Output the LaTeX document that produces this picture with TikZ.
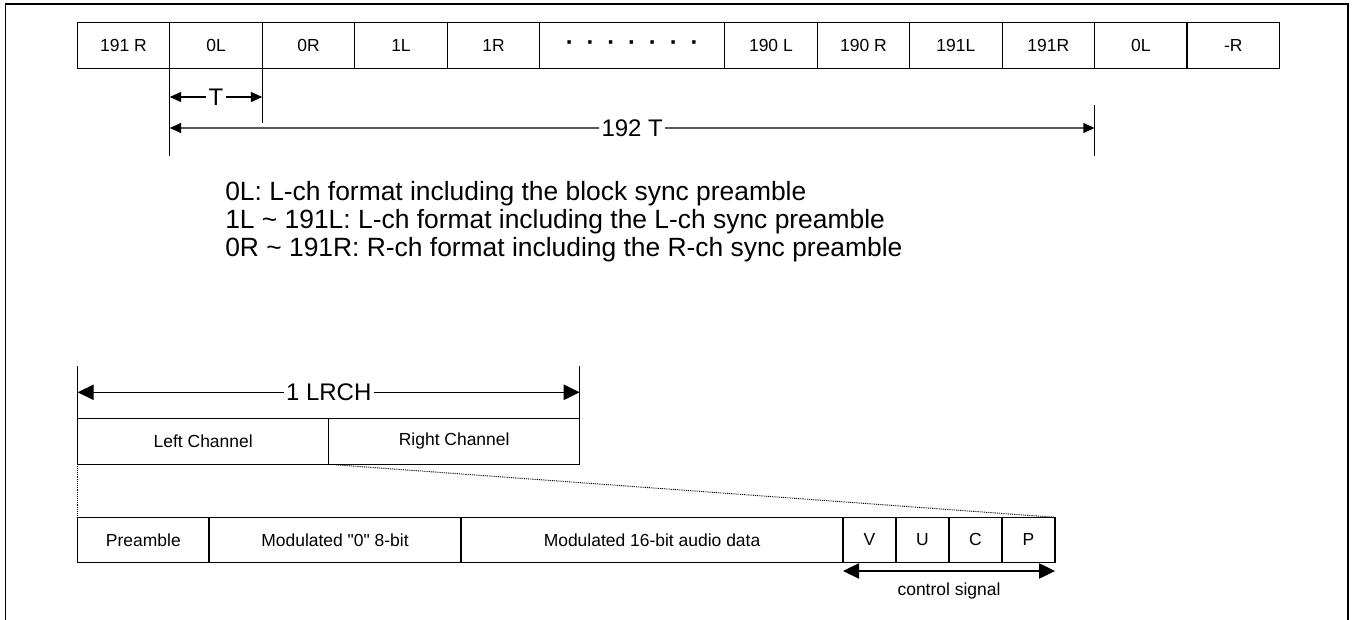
\documentclass[tikz,border=0pt]{standalone}
\usepackage{fontspec}
\setmainfont{Liberation Sans}[Ligatures=TeXOff]
\usetikzlibrary{arrows.meta,calc}
\begin{document}
\begin{tikzpicture}[x=0.75pt,y=-0.75pt,
  cell/.style={draw, line width=0.9pt, inner sep=0pt, outer sep=0pt,
    minimum height=34.5pt, minimum width=69.36pt, anchor=west,
    font=\fontsize{13.1}{15}\selectfont},
  lowcell/.style={cell, minimum height=33.75pt},
  tickline/.style={line width=0.9pt},
  dimlab/.style={inner sep=1.5pt, font=\fontsize{18}{21}\selectfont},
  legend/.style={inner sep=0pt, anchor=base west, font=\fontsize{19.8}{23}\selectfont},
  smallarr/.style={line width=0.9pt, -{Triangle[length=8.5pt,width=7.5pt]}},
  bigarr/.style={line width=0.9pt, -{Triangle[length=12pt,width=11.5pt]}},
  bothbig/.style={line width=0.9pt, {Triangle[length=12pt,width=11.5pt]}-{Triangle[length=12pt,width=11.5pt]}},
  dotline/.style={line width=0.7pt, dash pattern=on 0.7pt off 0.7pt},
  cslab/.style={inner sep=0pt, anchor=base, font=\fontsize{13.1}{15}\selectfont}
]
\useasboundingbox (0,0) rectangle (1356,620);

% outer frame (open at the bottom)
\draw[line width=1.3pt] (5.5,620) -- (5.5,4) -- (1348,4) -- (1348,620);

% top row
\node[cell] (c1) at (77.3,45.6) {191 R};
\node[cell] (c2) at (c1.east) {0L};
\node[cell] (c3) at (c2.east) {0R};
\node[cell] (c4) at (c3.east) {1L};
\node[cell] (c5) at (c4.east) {1R};
\node[cell, minimum width=138.72pt, font=\fontsize{18}{21}\selectfont\bfseries] (cd) at (c5.east)
  {·\hspace{9.6pt}·\hspace{9.6pt}·\hspace{9.6pt}·\hspace{9.6pt}·\hspace{9.6pt}·\hspace{9.6pt}·};
\node[cell] (c6) at (cd.east) {190 L};
\node[cell] (c7) at (c6.east) {190 R};
\node[cell] (c8) at (c7.east) {191L};
\node[cell] (c9) at (c8.east) {191R};
\node[cell] (c10) at (c9.east) {0L};
\node[cell] (c11) at (c10.east) {-R};

% ticks
\coordinate (t1) at ($(c2.south west)+(0,87.2)$);
\draw[tickline] (c2.south west) -- (t1);
\coordinate (t2) at ($(c2.south east)+(0,54.5)$);
\draw[tickline] (c2.south east) -- (t2);
\coordinate (t3a) at ($(c9.south east)+(0,36.5)$);
\coordinate (t3b) at ($(c9.south east)+(0,87.2)$);
\draw[tickline] (t3a) -- (t3b);

% T arrow
\node[dimlab] (Tl) at ($(c2.south)+(0,28.4)$) {T};
\coordinate (Ta) at ($(c2.south west)+(0,28.4)$);
\coordinate (Tb) at ($(c2.south east)+(0,28.4)$);
\draw[smallarr] (Tl) -- (Ta);
\draw[smallarr] (Tl) -- (Tb);

% 192 T arrow
\node[dimlab] (T192) at ($(c2.south west)!0.5!(c9.south east)+(0,59.4)$) {192 T};
\coordinate (Ua) at ($(c2.south west)+(0,59.4)$);
\coordinate (Ub) at ($(c9.south east)+(0,59.4)$);
\draw[smallarr] (T192) -- (Ua);
\draw[smallarr] (T192) -- (Ub);

% legend
\node[legend] (lg1) at (225,200.7) {0L: L-ch format including the block sync preamble};
\node[legend] (lg2) at (225,228.4) {1L \textasciitilde{} 191L: L-ch format including the L-ch sync preamble};
\node[legend] (lg3) at (225,256.1) {0R \textasciitilde{} 191R: R-ch format including the R-ch sync preamble};

% LRCH
\node[cell, minimum width=188.25pt] (lc) at (77.7,441.3) {Left Channel};
\node[cell, minimum width=188.25pt] (rc) at (lc.east) {Right Channel};
\coordinate (l1) at ($(lc.north west)+(0,-52.6)$);
\coordinate (l2) at ($(rc.north east)+(0,-52.6)$);
\draw[tickline] (lc.north west) -- (l1);
\draw[tickline] (rc.north east) -- (l2);
\node[dimlab] (lr) at ($(lc.north east)+(0,-26)$) {1 LRCH};
\coordinate (la) at ($(lc.north west)+(0,-26)$);
\coordinate (lb) at ($(rc.north east)+(0,-26)$);
\draw[bigarr] (lr) -- (la);
\draw[bigarr] (lr) -- (lb);

% bottom row
\node[lowcell, minimum width=98.5pt] (pre) at (77.7,539.8) {Preamble};
\node[lowcell, minimum width=189pt] (m0) at (pre.east) {Modulated "0" 8-bit};
\node[lowcell, minimum width=286.5pt] (m16) at (m0.east) {Modulated 16-bit audio data};
\node[lowcell, minimum width=39.75pt] (V) at (m16.east) {V};
\node[lowcell, minimum width=39.75pt] (U) at (V.east) {U};
\node[lowcell, minimum width=39.75pt] (C) at (U.east) {C};
\node[lowcell, minimum width=39.75pt] (P) at (C.east) {P};

% dotted zoom lines
\draw[dotline] (lc.south west) -- (pre.north west);
\draw[dotline] (lc.south east) -- (P.north east);

% control signal
\coordinate (cs1) at ($(V.south west)+(0,8.7)$);
\coordinate (cs2) at ($(P.south east)+(0,8.7)$);
\draw[bothbig] (cs1) -- (cs2);
\node[cslab] (csl) at ($(cs1)!0.5!(cs2)+(0,24.7)$) {control signal};
\end{tikzpicture}
\end{document}
